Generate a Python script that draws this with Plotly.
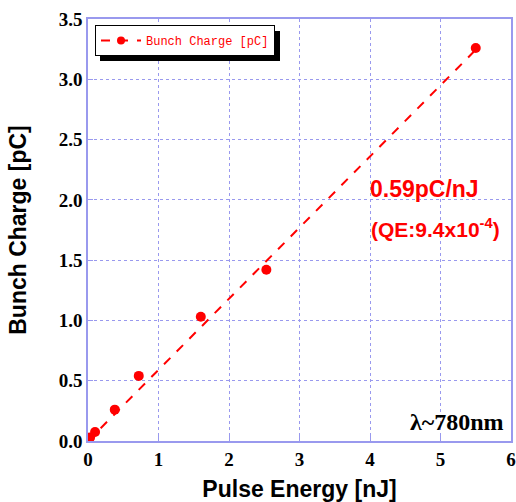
import plotly.graph_objects as go

pulse_energy = [0.0, 0.01, 0.03, 0.1, 0.38, 0.72, 1.6, 2.53, 5.5]
bunch_charge = [0.0, 0.01, 0.03, 0.075, 0.26, 0.54, 1.03, 1.42, 3.26]
fit_x = [0.0, 5.5]
slope = 0.59
fit_y = [slope * v for v in fit_x]

x_ticks = [0, 1, 2, 3, 4, 5, 6]
y_ticks = [0.0, 0.5, 1.0, 1.5, 2.0, 2.5, 3.0, 3.5]

red = "#ff0000"
axis_col = "#9999ee"
W, H = 516, 502
L, R, T, B = 88, 5, 19, 61
pw, ph = W - L - R, H - T - B


def px(xp):
    return (xp - L) / pw


def py(yp):
    return (H - B - yp) / ph


fig = go.Figure()
fig.add_trace(go.Scatter(
    x=fit_x, y=fit_y, mode="lines",
    line=dict(color=red, width=2, dash="dash"),
    showlegend=False, hoverinfo="skip"))
fig.add_trace(go.Scatter(
    x=pulse_energy, y=bunch_charge, mode="markers",
    marker=dict(color=red, size=10),
    name="Bunch Charge [pC]", showlegend=False))
fig.add_trace(go.Scatter(
    x=[None], y=[None], mode="lines+markers",
    line=dict(color=red, width=2, dash="dash"),
    marker=dict(color=red, size=8),
    name="Bunch Charge [pC]"))

fig.update_layout(
    width=W, height=H,
    margin=dict(l=L, r=R, t=T, b=B),
    paper_bgcolor="white", plot_bgcolor="white",
    legend=dict(x=px(95), y=py(25), xanchor="left", yanchor="top",
                bgcolor="white", bordercolor="black", borderwidth=1,
                font=dict(family="Liberation Mono", size=12, color=red),
                itemwidth=40),
    shapes=[dict(type="rect", xref="paper", yref="paper",
                 x0=px(100), x1=px(280), y0=py(61), y1=py(31),
                 fillcolor="black", line=dict(width=0), layer="above")],
    annotations=[
        dict(x=4.77, y=2.09, xref="x", yref="y", showarrow=False,
             text="0.59pC/nJ",
             font=dict(family="Liberation Sans", size=23, color=red,
                       weight="bold")),
        dict(x=4.93, y=1.77, xref="x", yref="y", showarrow=False,
             text="(QE:9.4x10<sup>-4</sup>)",
             font=dict(family="Liberation Sans", size=21, color=red,
                       weight="bold")),
        dict(x=5.23, y=0.16, xref="x", yref="y", showarrow=False,
             text="λ~780nm",
             font=dict(family="Liberation Serif", size=24, color="black",
                       weight="bold")),
    ],
)
common = dict(
    ticks="inside", ticklen=5, tickcolor=axis_col, showline=True,
    linecolor=axis_col, linewidth=1.5, mirror=True, showgrid=True,
    gridcolor=axis_col, griddash="dot", gridwidth=1, zeroline=False,
    automargin=False,
    tickfont=dict(family="Liberation Serif", size=19, color="black",
                  weight="bold"))
fig.update_xaxes(
    range=[0, 6], tickvals=x_ticks, **common,
    title=dict(text="Pulse Energy [nJ]",
               font=dict(family="Liberation Sans", size=23, color="black",
                         weight="bold")))
fig.update_yaxes(
    range=[0, 3.5], tickvals=y_ticks, tickformat=".1f", **common,
    title=dict(text="Bunch Charge [pC]", standoff=26,
               font=dict(family="Liberation Sans", size=23, color="black",
                         weight="bold")))

fig.write_html("out.html", config={"displayModeBar": False},
               post_script="document.body.style.margin='0';"
                           "document.body.style.overflow='hidden';")
